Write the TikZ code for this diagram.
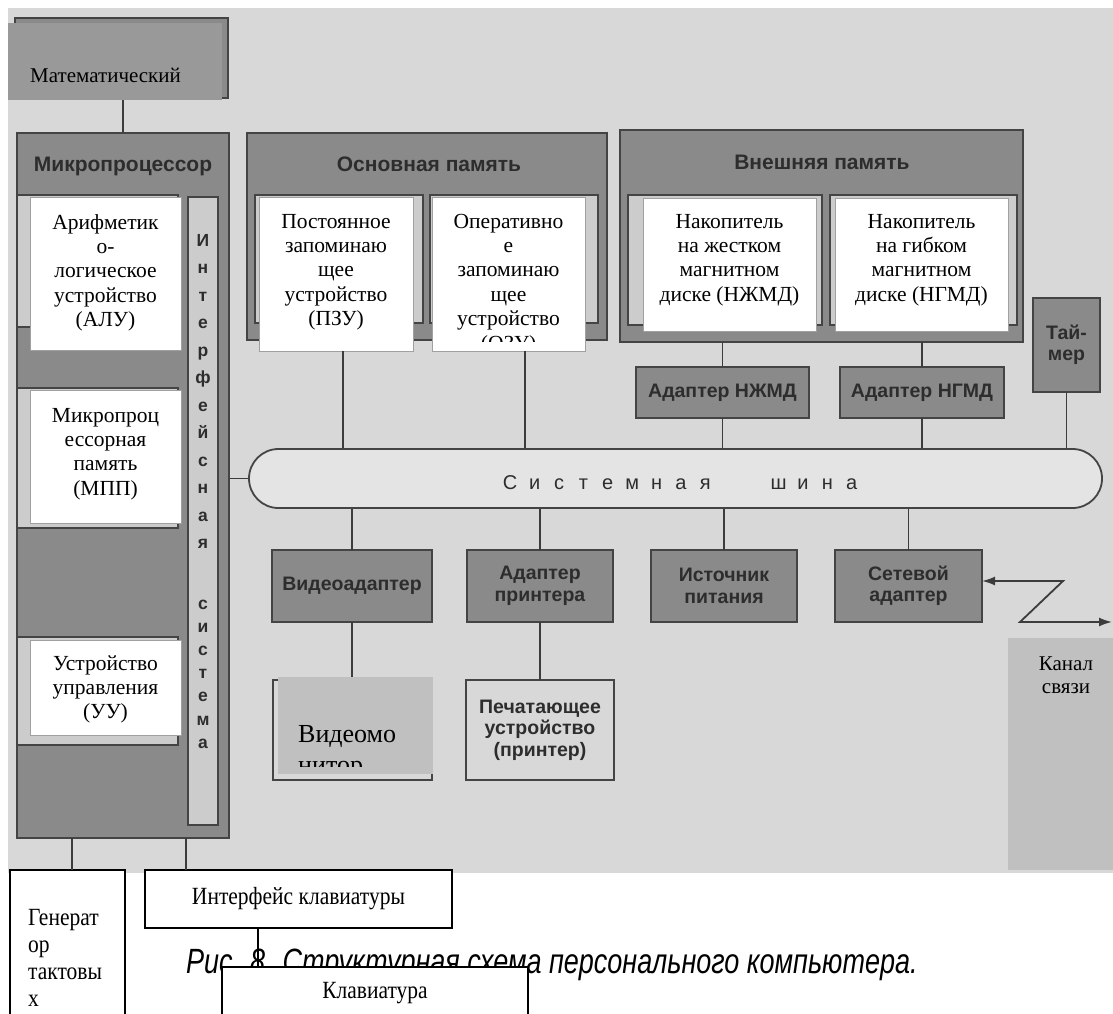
\documentclass[tikz,border=0pt]{standalone}
\usepackage{fontspec}
\setmainfont{Liberation Serif}
\newfontfamily\scanf{Liberation Sans}
\usetikzlibrary{arrows.meta,calc}
\definecolor{bgc}{RGB}{216,216,216}
\definecolor{darkc}{RGB}{138,138,138}
\definecolor{edgec}{RGB}{68,68,68}
\definecolor{framec}{RGB}{204,204,204}
\definecolor{txtc}{RGB}{45,45,45}
\definecolor{matc}{RGB}{153,153,153}
\definecolor{ovc}{RGB}{192,192,192}
\definecolor{linec}{RGB}{60,60,60}
\definecolor{wedge}{RGB}{160,160,160}
\newcommand\mlines[1]{\begin{tabular}[t]{@{}c@{}}#1\end{tabular}}
\newcommand\mlinesl[1]{\begin{tabular}[t]{@{}l@{}}#1\end{tabular}}
\newcommand\fsz[2]{\fontsize{#1}{#2}\selectfont}
\newcommand\busl[1]{\makebox[24.4pt][c]{#1}}
\newcommand\tallx[2]{\scalebox{1}[#1]{#2}}
\begin{document}
\begin{tikzpicture}[x=1pt,y=-1pt,
  >={Latex[length=13pt,width=9pt]},
  base/.style={inner sep=0pt,outer sep=0pt,anchor=north west},
  darkbox/.style={base,draw=edgec,fill=darkc,line width=1.8pt},
  framebox/.style={base,draw=edgec,fill=framec,line width=1.4pt},
  whitebox/.style={base,draw=wedge,fill=white,line width=1pt},
  greyov/.style={base,fill=ovc},
  newbox/.style={base,draw=black,fill=white,line width=1.6pt},
  lightbox/.style={base,draw=edgec,fill=bgc,line width=1.8pt},
  conn/.style={draw=linec,line width=1.8pt},
  newconn/.style={draw=black,line width=1.6pt},
  scantxt/.style={inner sep=0pt,text=txtc,font=\scanf\bfseries\fsz{19.5}{21.5},align=center},
  headtxt/.style={inner sep=0pt,text=txtc,font=\scanf\bfseries\fsz{21}{24},anchor=base},
  coltxt/.style={inner sep=0pt,text=txtc,font=\scanf\bfseries\fsz{17.5}{20},anchor=base},
  sertxt/.style={inner sep=0pt,font=\fsz{21.5}{24.4},anchor=base}
]
\clip (0,0) rectangle (1113,1014);
\fill[white] (0,0) rectangle (1113,1014);
\node[base,fill=bgc,minimum width=1105pt,minimum height=865pt] (bg) at (8,8) {};

% mathematical (top-left)
\node[darkbox,minimum width=213pt,minimum height=80pt] (matorig) at (15,18) {};
\node[base,fill=matc,minimum width=214pt,minimum height=77pt] (mat) at (8,23) {};
\node[sertxt,font=\fsz{21}{24},anchor=base west] (matt) at (30,83) {Математический};

% microprocessor
\node[darkbox,minimum width=212pt,minimum height=705pt] (mp) at (17,133) {};
\node[headtxt] (mpt) at (123,171) {Микропроцессор};
\node[framebox,minimum width=161pt,minimum height=132pt] (alu0) at (17,195) {};
\node[whitebox,minimum width=151pt,minimum height=153pt] (alu) at (30,197) {};
\node[sertxt] (alut) at (105.5,229) {\mlines{Арифметик\\о-\\логическое\\устройство\\(АЛУ)}};
\node[framebox,minimum width=161pt,minimum height=140pt] (mpp0) at (17,388) {};
\node[whitebox,minimum width=151pt,minimum height=133pt] (mpp) at (30,390) {};
\node[sertxt] (mppt) at (105.5,422) {\mlines{Микропроц\\ессорная\\память\\(МПП)}};
\node[framebox,minimum width=161pt,minimum height=108pt] (uu0) at (17,637) {};
\node[whitebox,minimum width=151pt,minimum height=95pt] (uu) at (30,640) {};
\node[sertxt] (uut) at (105.5,670) {\mlines{Устройство\\управления\\(УУ)}};
\node[framebox,minimum width=30pt,minimum height=628pt] (ifc) at (188,197) {};
\foreach \l [count=\i from 0] in {И,н,т,е,р,ф,е,й,с,н,а,я}
  \node[coltxt] (ia\i) at (203,{246+27.5*\i}) {\l};
\foreach \l [count=\i from 0] in {с,и,с,т,е,м,а}
  \node[coltxt] (ib\i) at (203,{609+23.2*\i}) {\l};

% main memory
\node[darkbox,minimum width=360pt,minimum height=207pt] (om) at (247,133) {};
\node[headtxt] (omt) at (429,171) {Основная память};
\node[framebox,minimum width=168pt,minimum height=128pt] (pzu0) at (255,195) {};
\node[whitebox,minimum width=154pt,minimum height=154pt] (pzu) at (259,197) {};
\node[sertxt] (pzut) at (336,228) {\mlines{Постоянное\\запоминаю\\щее\\устройство\\(ПЗУ)}};
\node[framebox,minimum width=168pt,minimum height=128pt] (ozu0) at (430,195) {};
\node[whitebox,minimum width=153pt,minimum height=154pt] (ozu) at (432,197) {};
\begin{scope}
  \clip (432,198) rectangle (585,341);
  \node[sertxt] (ozut) at (508.5,228) {\mlines{Оперативно\\е\\запоминаю\\щее\\устройство\\(ОЗУ)}};
\end{scope}

% external memory
\node[darkbox,minimum width=403pt,minimum height=212pt] (vm) at (620,130) {};
\node[headtxt] (vmt) at (822,169) {Внешняя память};
\node[framebox,minimum width=194pt,minimum height=130pt] (nj0) at (628,195) {};
\node[whitebox,minimum width=173pt,minimum height=133pt] (nj) at (643,198) {};
\node[sertxt] (njt) at (729.5,228) {\mlines{Накопитель\\на жестком\\магнитном\\диске (НЖМД)}};
\node[framebox,minimum width=187pt,minimum height=130pt] (ng0) at (830,195) {};
\node[whitebox,minimum width=173pt,minimum height=133pt] (ng) at (835,198) {};
\node[sertxt] (ngt) at (921.5,228) {\mlines{Накопитель\\на гибком\\магнитном\\диске (НГМД)}};

% adapters and timer
\node[darkbox,minimum width=173pt,minimum height=51pt,scantxt] (adn) at (636,367) {Адаптер НЖМД};
\node[darkbox,minimum width=164pt,minimum height=51pt,scantxt] (adg) at (840,367) {Адаптер НГМД};
\node[darkbox,minimum width=67pt,minimum height=94pt,scantxt] (tm) at (1033,298) {Тай-\\мер};

% system bus
\node[draw=edgec,fill=bgc!70!white,line width=1.8pt,rounded corners=29.5pt,minimum width=853pt,minimum height=59pt,inner sep=0pt] (bus) at (675.5,478.5) {};
\node[inner sep=0pt,text=txtc,font=\scanf\fsz{20}{22},anchor=base] (bust) at (681,489) {\busl{С}\busl{и}\busl{с}\busl{т}\busl{е}\busl{м}\busl{н}\busl{а}\busl{я}\busl{}\busl{}\busl{ш}\busl{и}\busl{н}\busl{а}};

% bottom row
\node[darkbox,minimum width=160pt,minimum height=72pt,scantxt] (vid) at (272,550) {Видеоадаптер};
\node[darkbox,minimum width=146pt,minimum height=72pt,scantxt] (adp) at (467,550) {Адаптер\\принтера};
\node[darkbox,minimum width=146pt,minimum height=72pt,scantxt] (pwr) at (651,550) {Источник\\питания};
\node[darkbox,minimum width=147pt,minimum height=72pt,scantxt] (net) at (835,550) {Сетевой\\адаптер};

\node[lightbox,minimum width=159pt,minimum height=100pt] (mon0) at (273,680) {};
\node[greyov,minimum width=155pt,minimum height=97pt] (mon) at (278,677) {};
\begin{scope}
  \clip (278,677) rectangle (433,766);
  \node[inner sep=0pt,font=\fsz{26}{31},anchor=base west] (mont) at (298,742) {\mlinesl{Видеомо\\нитор}};
\end{scope}
\node[lightbox,minimum width=148pt,minimum height=100pt,scantxt] (prn) at (466,680) {Печатающее\\устройство\\(принтер)};

% channel
\node[greyov,minimum width=105pt,minimum height=232pt] (kan) at (1008,638) {};
\node[sertxt,font=\fsz{21}{23.5}] (kant) at (1066,670) {\mlines{Канал\\связи}};

% caption
\node[inner sep=0pt,font=\scanf\itshape\fsz{27}{32},text=black,anchor=base west] (cap) at (186,973) {\tallx{1.3}{Рис. 8. Структурная схема персонального компьютера.}};

% new white boxes at bottom
\node[newbox,minimum width=115pt,minimum height=160pt] (gen) at (10,870) {};
\node[inner sep=0pt,font=\fsz{21.5}{23.5},anchor=base west] (gent) at (28,925) {\tallx{1.15}{\mlinesl{Генерат\\ор\\тактовы\\х}}};
\node[newbox,minimum width=307pt,minimum height=58pt] (ik) at (145,870) {};
\node[inner sep=0pt,font=\fsz{21.5}{24},anchor=base] (ikt) at (298.5,904) {\tallx{1.15}{Интерфейс клавиатуры}};
\node[newbox,minimum width=306pt,minimum height=60pt] (kl) at (222,967) {};
\node[inner sep=0pt,font=\fsz{21.5}{24},anchor=base] (klt) at (375,998) {\tallx{1.15}{Клавиатура}};

% connectors
\draw[conn] (mat.south -| mp.north) -- (mp.north);
\draw[conn] (mp.east |- bus.west) -- (bus.west);
\draw[conn] ([xshift=7pt]pzu.south) -- ([xshift=7pt]pzu.south |- bus.north);
\draw[conn] ([xshift=16.5pt]ozu.south) -- ([xshift=16.5pt]ozu.south |- bus.north);
\draw[conn] (vm.south -| adn.north) -- (adn.north);
\draw[conn] (vm.south -| adg.north) -- (adg.north);
\draw[conn] (adn.south) -- (adn.south |- bus.north);
\draw[conn] (adg.south) -- (adg.south |- bus.north);
\draw[conn] (tm.south) -- (tm.south |- bus.north);
\draw[conn] (bus.south -| vid.north) -- (vid.north);
\draw[conn] (bus.south -| adp.north) -- (adp.north);
\draw[conn] (bus.south -| pwr.north) -- (pwr.north);
\draw[conn] (bus.south -| net.north) -- (net.north);
\draw[conn] (vid.south) -- (vid.south |- mon.north);
\draw[conn] (adp.south) -- (adp.south |- prn.north);
\draw[conn] ([xshift=4.5pt]gen.north) -- ([xshift=4.5pt]gen.north |- mp.south);
\draw[conn] ([xshift=41pt]ik.north west) -- ([xshift=41pt]ik.north west |- mp.south);
\draw[newconn] ([xshift=113pt]ik.south west) -- ([xshift=113pt]ik.south west |- kl.north);

\coordinate (z1) at (1063,581);
\coordinate (z2) at (1020,622);
\coordinate (z3) at (1112,622);
\draw[conn,<->] (z1 -| net.east) -- (z1) -- (z2) -- (z3);
\end{tikzpicture}
\end{document}
